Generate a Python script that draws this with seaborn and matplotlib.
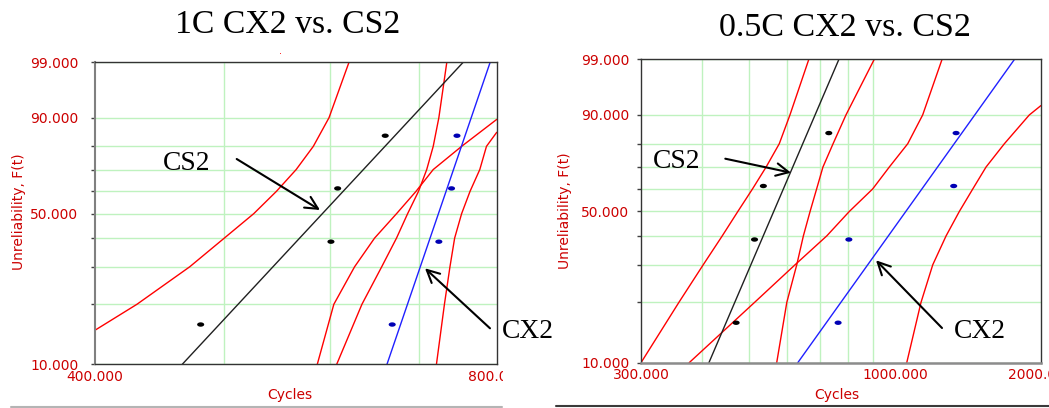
import numpy as np
import pandas as pd
import matplotlib
matplotlib.use("Agg")
import matplotlib.pyplot as plt
import seaborn as sns
from matplotlib.path import Path
from matplotlib.ticker import FixedLocator, FixedFormatter, NullFormatter
from matplotlib.lines import Line2D
from matplotlib.patches import FancyArrowPatch
from matplotlib.transforms import Bbox

# ------------------------------------------------------------------
# Data (Weibull probability plots)
# ------------------------------------------------------------------
rank_pct = [15.91, 38.64, 61.36, 84.09]          # median ranks, n = 4

c1_cs2_cycles = [480, 601, 608, 660]
c1_cx2_cycles = [668, 724, 740, 747]
c05_cs2_cycles = [471, 514, 536, 731]
c05_cx2_cycles = [764, 804, 1322, 1337]

fit_pct = [10, 99]
c1_cs2_fit = [465, 755]
c1_cx2_fit = [662, 791]
c05_cs2_fit = [414, 767]
c05_cx2_fit = [631, 1764]

# confidence bounds (red curves), read at the grid levels
c1_cs2_lo_pct = [14.9, 20, 30, 40, 50, 60, 70, 80, 90, 99]
c1_cs2_lo = [400, 430, 471, 500, 526, 547, 566, 583, 599, 620]
c1_cs2_hi_pct = [10, 20, 30, 40, 50, 60, 70, 80, 89.5]
c1_cs2_hi = [587, 604, 626, 648, 673, 696, 717, 753, 800]
c1_cx2_lo_pct = [10, 20, 30, 40, 50, 60, 70, 80, 90, 99]
c1_cx2_lo = [607, 634, 656, 673, 686, 699, 709, 717, 724, 734]
c1_cx2_hi_pct = [10, 20, 30, 40, 50, 60, 70, 80, 85.3]
c1_cx2_hi = [721, 731, 738, 744, 753, 764, 777, 786, 800]

c05_cs2_lo_pct = [10, 20, 30, 40, 50, 60, 70, 80, 90, 99]
c05_cs2_lo = [300, 359, 403, 441, 475, 509, 543, 578, 608, 665]
c05_cs2_hi_pct = [10, 20, 30, 40, 50, 60, 70, 80, 90, 99]
c05_cs2_hi = [571, 599, 628, 648, 669, 690, 711, 746, 793, 907]
c05_cx2_lo_pct = [10, 20, 30, 40, 50, 60, 70, 80, 90, 99]
c05_cx2_lo = [377, 514, 623, 724, 806, 900, 974, 1063, 1141, 1251]
c05_cx2_hi_pct = [10, 20, 30, 40, 50, 60, 70, 80, 90, 92.5]
c05_cx2_hi = [1058, 1132, 1197, 1275, 1358, 1447, 1541, 1681, 1892, 2000]

# axes text
titles = ["1C CX2 vs. CS2", "0.5C CX2 vs. CS2"]
y_ticks = [10, 50, 90, 99]
y_ticklabels = ["10.000", "50.000", "90.000", "99.000"]
y_minor = [20, 30, 40, 60, 70, 80]
left_xticks = [400, 800]
left_xticklabels = ["400.000", "800.000"]
left_xminor = [500, 600, 700]
right_xticks = [300, 1000, 2000]
right_xticklabels = ["300.000", "1000.000", "2000.000"]
right_xminor = [400, 500, 600, 700, 800, 900]
xlabel = "Cycles"
ylabel = "Unreliability, F(t)"

# ------------------------------------------------------------------
sns.set_theme(style="white")
plt.rcParams["font.family"] = ["DejaVu Sans"]

RED_TXT = "#cc0000"
GRID = "#bff2bf"
SERIF = ["Liberation Serif", "DejaVu Serif"]


def weib_fwd(p):
    p = np.clip(np.asarray(p, dtype=float), 1e-9, 100 - 1e-9)
    return np.log(-np.log(1.0 - p / 100.0))


def weib_inv(w):
    return 100.0 * (1.0 - np.exp(-np.exp(np.asarray(w, dtype=float))))


theta = np.linspace(0, 2 * np.pi, 41)
ellipse = Path(np.column_stack([np.cos(theta), 0.62 * np.sin(theta)]), closed=True)

W, H = 1049, 408
fig = plt.figure(figsize=(W / 100, H / 100), dpi=100)
fig.patch.set_facecolor("white")


def px_axes(x0, y0, x1, y1):
    return fig.add_axes([x0 / W, (H - y1) / H, (x1 - x0) / W, (y1 - y0) / H])


ax1 = px_axes(95, 62.3, 496.7, 364.3)
ax2 = px_axes(641, 59.3, 1041, 362.7)


def make_df(pairs):
    rows = []
    for name, pct, cyc in pairs:
        for p, c in zip(pct, cyc):
            rows.append({"curve": name, "pct": p, "cycles": c})
    return pd.DataFrame(rows)


def draw_panel(ax, cs2_pts, cx2_pts, cs2_fit, cx2_fit, bounds, xlim, xticks, xlabels,
               xminor, ypad):
    bdf = make_df(bounds)
    sns.lineplot(data=bdf, x="cycles", y="pct", units="curve", estimator=None,
                 sort=False, color="#ff0000", lw=1.0, ax=ax, legend=False)
    fdf = make_df([("CS2", fit_pct, cs2_fit), ("CX2", fit_pct, cx2_fit)])
    sns.lineplot(data=fdf, x="cycles", y="pct", hue="curve", estimator=None,
                 sort=False, palette={"CS2": "#202020", "CX2": "#2020ff"},
                 lw=1.0, ax=ax, legend=False)
    pdf = make_df([("CS2", rank_pct, cs2_pts), ("CX2", rank_pct, cx2_pts)])
    sns.scatterplot(data=pdf, x="cycles", y="pct", hue="curve",
                    palette={"CS2": "#000000", "CX2": "#0000b4"},
                    marker=ellipse, s=26, edgecolor="none", legend=False,
                    ax=ax, zorder=6)

    ax.set_xscale("log")
    ax.set_yscale("function", functions=(weib_fwd, weib_inv))
    ax.set_xlim(*xlim)
    ax.set_ylim(10, 99)

    ax.xaxis.set_major_locator(FixedLocator(xticks))
    ax.xaxis.set_major_formatter(FixedFormatter(xlabels))
    ax.xaxis.set_minor_locator(FixedLocator(xminor))
    ax.xaxis.set_minor_formatter(NullFormatter())
    ax.yaxis.set_major_locator(FixedLocator(y_ticks))
    ax.yaxis.set_major_formatter(FixedFormatter(y_ticklabels))
    ax.yaxis.set_minor_locator(FixedLocator(y_minor))
    ax.yaxis.set_minor_formatter(NullFormatter())

    ax.grid(False)
    ax.grid(True, axis="x", which="minor", color=GRID, lw=1.0)
    ax.grid(True, axis="y", which="both", color=GRID, lw=1.0)
    ax.set_axisbelow(True)

    ax.tick_params(axis="y", which="both", left=True, length=3, width=1,
                   color="#404040", direction="out", pad=ypad,
                   labelsize=10, labelcolor=RED_TXT)
    ax.tick_params(axis="x", which="both", bottom=True, length=0, pad=4,
                   labelsize=10, labelcolor=RED_TXT)

    ax.set_xlabel(xlabel, color=RED_TXT, fontsize=10, va="center")
    ax.set_ylabel(ylabel, color=RED_TXT, fontsize=10, va="center")
    for s in ax.spines.values():
        s.set_visible(True)
        s.set_color("#333333")
        s.set_linewidth(1.0)


draw_panel(ax1, c1_cs2_cycles, c1_cx2_cycles, c1_cs2_fit, c1_cx2_fit,
           [("cs2_lo", c1_cs2_lo_pct, c1_cs2_lo), ("cs2_hi", c1_cs2_hi_pct, c1_cs2_hi),
            ("cx2_lo", c1_cx2_lo_pct, c1_cx2_lo), ("cx2_hi", c1_cx2_hi_pct, c1_cx2_hi)],
           (400, 800), left_xticks, left_xticklabels, left_xminor, ypad=9)
draw_panel(ax2, c05_cs2_cycles, c05_cx2_cycles, c05_cs2_fit, c05_cx2_fit,
           [("cs2_lo", c05_cs2_lo_pct, c05_cs2_lo), ("cs2_hi", c05_cs2_hi_pct, c05_cs2_hi),
            ("cx2_lo", c05_cx2_lo_pct, c05_cx2_lo), ("cx2_hi", c05_cx2_hi_pct, c05_cx2_hi)],
           (300, 2000), right_xticks, right_xticklabels, right_xminor, ypad=5.3)

ax1.spines["left"].set_color("#808080")
ax1.spines["left"].set_linewidth(1.5)
ax2.spines["bottom"].set_color("#8c8c8c")
ax2.spines["bottom"].set_linewidth(1.8)

# axis-label placement (centres measured on the reference)
ax1.xaxis.set_label_coords(0.486, -0.102)
ax1.yaxis.set_label_coords(-0.190, 0.504)
ax2.xaxis.set_label_coords(0.490, -0.106)
ax2.yaxis.set_label_coords(-0.189, 0.501)

# left screenshot is cut just right of the axes: clip its "800.000" label
fig.canvas.draw()
clip = Bbox.from_extents(0, 0, 503, H)
for t in ax1.xaxis.get_major_ticks():
    t.label1.set_clip_box(clip)
    t.label1.set_clip_on(True)

# titles
fig.text(288, H - 33.3, titles[0], transform=None, ha="center", va="baseline",
         family=SERIF, fontsize=24.3, color="black")
fig.text(845, H - 36, titles[1], transform=None, ha="center", va="baseline",
         family=SERIF, fontsize=24.5, color="black")
fig.text(280, H - 53.5, ".", transform=None, ha="center", va="baseline",
         fontsize=7, color="#ff0000")

# annotations (labels + open arrows), positions in figure pixels from top-left
ann = [
    ("CS2", 163.3, 169.5, (236.7, 159), (320, 210)),
    ("CX2", 502.0, 338.0, (490, 328.3), (425, 268.3)),
    ("CS2", 652.7, 168.5, (725.3, 158.7), (791, 172.7)),
    ("CX2", 954.3, 338.5, (942, 328), (876, 260.3)),
]
for label, tx, ty, tail, tip in ann:
    fig.text(tx, H - ty, label, transform=None, ha="left", va="baseline",
             family=SERIF, fontsize=19.8, color="black")
    arrow = FancyArrowPatch((tail[0] / W, (H - tail[1]) / H),
                            (tip[0] / W, (H - tip[1]) / H),
                            transform=fig.transFigure,
                            arrowstyle="->,head_length=0.6,head_width=0.3",
                            mutation_scale=15, color="black", lw=1.5,
                            shrinkA=0, shrinkB=0, zorder=10)
    fig.add_artist(arrow)

# separator lines under each screenshot
fig.add_artist(Line2D([11 / W, 502 / W], [(H - 407.3) / H] * 2, color="#b4b4b4",
                      lw=1.5, transform=fig.transFigure))
fig.add_artist(Line2D([556 / W, 1049 / W], [(H - 406) / H] * 2, color="#3a3a3a",
                      lw=1.5, transform=fig.transFigure))

fig.savefig("out.png", dpi=100, facecolor="white")
